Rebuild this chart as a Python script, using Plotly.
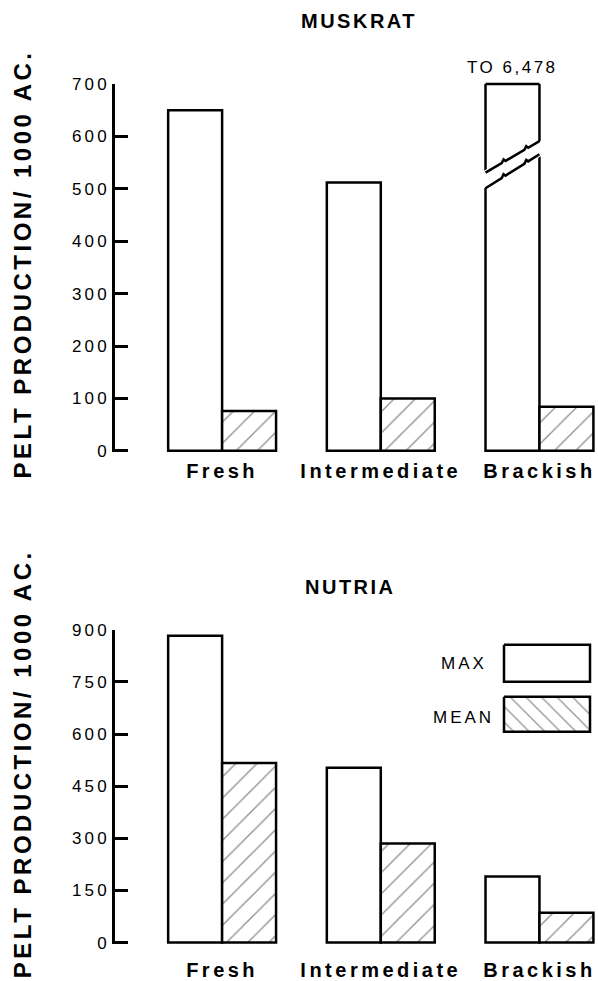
import plotly.graph_objects as go

# ---- data -------------------------------------------------------------
categories = ["Fresh", "Intermediate", "Brackish"]
muskrat_max = [650, 512, 6478]
muskrat_mean = [76, 100, 84]
nutria_max = [883, 503, 190]
nutria_mean = [517, 285, 86]
muskrat_ticks = [0, 100, 200, 300, 400, 500, 600, 700]
nutria_ticks = [0, 150, 300, 450, 600, 750, 900]

# ---- styling ----------------------------------------------------------
FONT = "Liberation Sans, Arial, sans-serif"
INK = "black"
LW = 2.5
BAR_W = 0.34
X_RANGE = [-0.675, 2.35]
MUSKRAT_TOP = 700          # the muskrat axis stops here; taller bars are broken
BREAK_LOWER = (501, 566)   # top edge of the lower stub (left, right)
BREAK_UPPER = (531, 591)   # bottom edge of the upper stub (left, right)

# figure geometry (pixels)
W, H = 598, 981
ML, MR, MT, MB = 115, 3, 84, 36.6
PLOT_H = H - MT - MB
TOP_DOMAIN = [0.5716, 1.0]
BOT_DOMAIN = [0.0, 0.3654]


def spaced(text, px):
    return f'<span style="letter-spacing:{px}px">{text}</span>'


def py(pixel_y):
    """paper y coordinate from a pixel row"""
    return (H - MB - pixel_y) / PLOT_H


xpos = list(range(len(categories)))

fig = go.Figure()

max_style = dict(color="white", line=dict(color=INK, width=LW))
mean_style = dict(
    color="white",
    line=dict(color=INK, width=LW),
    pattern=dict(shape="/", fgcolor="#222", bgcolor="white", size=15, solidity=0.09),
)

for ymax, ymean, xa, ya in [
    (muskrat_max, muskrat_mean, "x", "y"),
    (nutria_max, nutria_mean, "x2", "y2"),
]:
    fig.add_trace(go.Bar(x=xpos, y=ymax, width=BAR_W, offset=-BAR_W,
                         marker=max_style, xaxis=xa, yaxis=ya,
                         showlegend=False, hoverinfo="skip"))
    fig.add_trace(go.Bar(x=xpos, y=ymean, width=BAR_W, offset=0,
                         marker=mean_style, xaxis=xa, yaxis=ya,
                         showlegend=False, hoverinfo="skip"))

# ---- key (MAX / MEAN boxes) on an overlay in pixel units ---------------
key_boxes = [((504, 590), (645, 682), None), ((504, 590), (697, 732), "\\")]
for (x0, x1), (y0, y1), hatch in key_boxes:
    fill = dict(fillcolor="white")
    if hatch:
        fill = dict(fillpattern=dict(shape=hatch, fgcolor="#222", bgcolor="white",
                                     size=11, solidity=0.11))
    fig.add_trace(go.Scatter(
        x=[x0, x1, x1, x0, x0], y=[y0, y0, y1, y1, y0],
        mode="lines", fill="toself", line=dict(color=INK, width=LW),
        xaxis="x3", yaxis="y3", showlegend=False, hoverinfo="skip", **fill))

# ---- axes ---------------------------------------------------------------
xcommon = dict(range=X_RANGE, tickvals=xpos,
               ticktext=[spaced(c, 3.5) for c in categories],
               tickfont=dict(family=FONT, size=20, color=INK, weight="bold"),
               showline=False, showgrid=False, zeroline=False, ticks="",
               fixedrange=True, automargin=False)
ycommon = dict(showline=True, linecolor=INK, linewidth=LW, ticks="inside",
               ticklen=13, tickwidth=LW, tickcolor=INK, showgrid=False,
               zeroline=False, tickfont=dict(family=FONT, size=17, color=INK),
               ticklabelstandoff=-1, automargin=False)

fig.update_layout(
    width=W, height=H,
    margin=dict(l=ML, r=MR, t=MT, b=MB),
    paper_bgcolor="white", plot_bgcolor="rgba(0,0,0,0)",
    barmode="overlay",
    xaxis=dict(domain=[0, 1], anchor="y", ticklabelstandoff=5, **xcommon),
    yaxis=dict(domain=TOP_DOMAIN, anchor="x", range=[-3, MUSKRAT_TOP],
               tickvals=muskrat_ticks,
               ticktext=[spaced(t, 3.2) for t in muskrat_ticks], **ycommon),
    xaxis2=dict(domain=[0, 1], anchor="y2", ticklabelstandoff=12, **xcommon),
    yaxis2=dict(domain=BOT_DOMAIN, anchor="x2", range=[-4, 900],
                tickvals=nutria_ticks,
                ticktext=[spaced(t, 3.2) for t in nutria_ticks], **ycommon),
    xaxis3=dict(domain=[0, 1], anchor="y3", range=[ML, W - MR], visible=False,
                fixedrange=True, automargin=False),
    yaxis3=dict(domain=[0, 1], anchor="x3", range=[H - MB, MT], visible=False,
                fixedrange=True, automargin=False),
)

# ---- broken brackish muskrat bar -----------------------------------------
bi = categories.index("Brackish")
xl, xr = bi - BAR_W, bi


def break_edge(yl, yr):
    pts = [(xl, yl)]
    slope = (yr - yl) / (xr - xl)
    for t in (0.3, 0.72):
        x = xl + t * (xr - xl)
        y = yl + t * (yr - yl)
        pts += [(x, y), (x + 0.012, y + slope * 0.012 + 5), (x + 0.024, y + slope * 0.024)]
    pts.append((xr, yr))
    return "M " + " L ".join(f"{x:.4f},{y:.2f}" for x, y in pts)


e = 0.02
gap = (f"M {xl - e},{BREAK_LOWER[0] - 2} L {xr + e},{BREAK_LOWER[1] - 2} "
       f"L {xr + e},{BREAK_UPPER[1] + 2} L {xl - e},{BREAK_UPPER[0] + 2} Z")
shapes = [
    dict(type="path", path=gap, xref="x", yref="y", fillcolor="white",
         line=dict(width=0)),
    dict(type="path", path=break_edge(*BREAK_LOWER), xref="x", yref="y",
         line=dict(color=INK, width=LW)),
    dict(type="path", path=break_edge(*BREAK_UPPER), xref="x", yref="y",
         line=dict(color=INK, width=LW)),
    # cap of the broken bar at the top of the axis
    dict(type="line", xref="x", yref="paper", x0=xl, x1=xr, y0=1, y1=1,
         line=dict(color=INK, width=LW)),
]
fig.update_layout(shapes=shapes)

# ---- text -------------------------------------------------------------
ann = []
ytitle = spaced("PELT PRODUCTION/ 1000 AC.", 3.5)
for yc in (py(264), py(764)):
    ann.append(dict(text=ytitle, xref="paper", yref="paper",
                    x=(22.5 - ML) / (W - ML - MR), y=yc, textangle=-90,
                    xanchor="center", yanchor="middle", showarrow=False,
                    font=dict(family=FONT, size=24, color=INK, weight="bold")))
for label, xc, yc in (("MUSKRAT", 359, 21), ("NUTRIA", 350, 587)):
    ann.append(dict(text=spaced(label, 2.5), xref="paper", yref="paper",
                    x=(xc - ML) / (W - ML - MR), y=py(yc), xanchor="center",
                    yanchor="middle", showarrow=False,
                    font=dict(family=FONT, size=20, color=INK, weight="bold")))
ann.append(dict(text=spaced(f"TO {muskrat_max[bi]:,}", 2.5), xref="x", yref="paper",
                x=bi - BAR_W / 2, y=py(67), xanchor="center", yanchor="middle",
                showarrow=False, font=dict(family=FONT, size=17, color=INK)))
for label, xr_, yc in (("MAX", 489, 664), ("MEAN", 496, 718)):
    ann.append(dict(text=spaced(label, 3), xref="x3", yref="y3", x=xr_, y=yc,
                    xanchor="right", yanchor="middle", showarrow=False,
                    font=dict(family=FONT, size=17, color=INK)))
fig.update_layout(annotations=ann)

fig.write_html("out.html")
